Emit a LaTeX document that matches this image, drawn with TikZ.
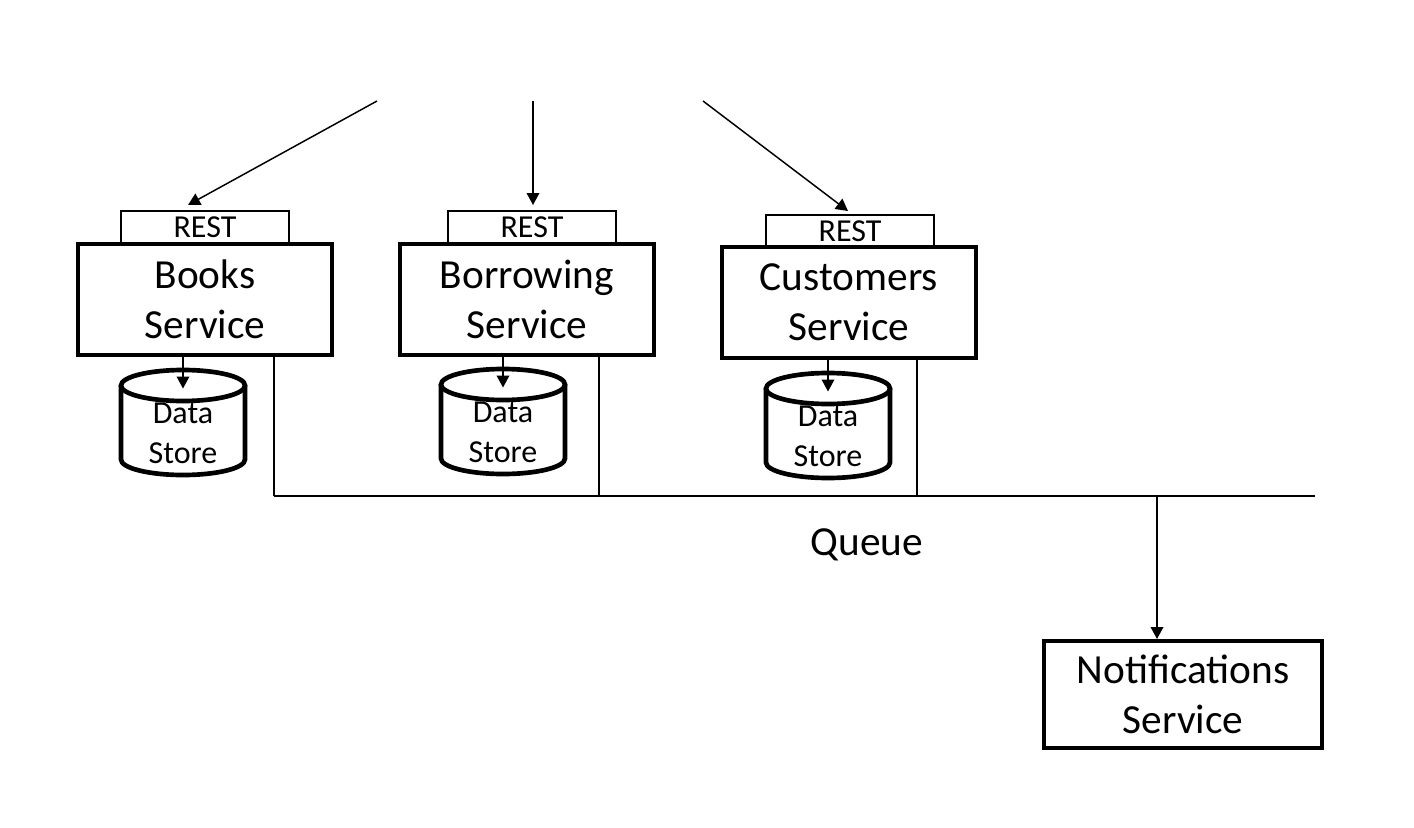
\documentclass[tikz,border=0pt]{standalone}
\usepackage{fontspec}
\setmainfont{Carlito}
\usetikzlibrary{arrows.meta}
\tikzset{
  svc/.style={draw, line width=3pt, minimum width=254*0.75pt, minimum height=111*0.75pt, inner sep=0pt, align=center, font=\fontsize{31}{37.5}\selectfont},
  rest/.style={draw, line width=1.1pt, minimum width=168*0.75pt, minimum height=32*0.75pt, inner sep=0pt, font=\fontsize{24}{28}\selectfont},
  dstext/.style={inner sep=0pt, align=center, font=\fontsize{24}{30}\selectfont},
  conn/.style={line width=1.1pt},
  arr/.style={conn, -{Triangle[length=9pt,width=9.5pt]}},
  cyl/.style={line width=3.5pt},
}
\begin{document}
\begin{tikzpicture}[x=0.75pt,y=-0.75pt]
\fill[white] (0,0) rectangle (1414,828);
\useasboundingbox (0,0) rectangle (1414,828);

% REST tabs
\node[rest] (r1) at (205,227) {REST};
\node[rest] (r2) at (532,227) {REST};
\node[rest] (r3) at (850,231) {REST};
% services
\node[svc, fill=white] (s1) at (205,299.5) {Books\\Service};
\node[svc, fill=white] (s2) at (527,299.5) {Borrowing\\Service};
\node[svc, fill=white] (s3) at (849,302.5) {Customers\\Service};
\node[svc, minimum width=278*0.75pt, minimum height=107*0.75pt] (s4) at (1183,694.5) {Notifications\\Service};

% data stores
\foreach \i/\cx/\cy in {1/183/385.5, 2/503/384.5, 3/828/388.5}{
  \fill[white] (\cx-62,\cy) -- (\cx-62,\cy+74) arc[start angle=180,end angle=0,x radius=62,y radius=15.5] -- (\cx+62,\cy) -- cycle;
  \node[dstext] (d\i) at (\cx,\cy+48) {Data\\Store};
  \draw[cyl, fill=white] (\cx,\cy) ellipse[x radius=62,y radius=15.5];
  \draw[cyl] (\cx-62,\cy) -- (\cx-62,\cy+74) arc[start angle=180,end angle=0,x radius=62,y radius=15.5] -- (\cx+62,\cy);
  \coordinate (t\i) at (\cx,\cy+3);
}
\draw[arr] (s1.south -| t1) -- (t1);
\draw[arr] (s2.south -| t2) -- (t2);
\draw[arr] (s3.south -| t3) -- (t3);

% queue
\coordinate (qL) at (274,496);
\coordinate (qR) at (1315,496);
\coordinate (q1) at (274,496);
\coordinate (q2) at (599,496);
\coordinate (q3) at (917,496);
\coordinate (q4) at (1157,496);
\draw[conn] (qL) -- (qR);
\draw[conn] (s1.south -| q1) -- (q1);
\draw[conn] (s2.south -| q2) -- (q2);
\draw[conn] (s3.south -| q3) -- (q3);
\draw[arr] (q4) -- (q4 |- s4.north);
\node[font=\fontsize{31}{37.5}\selectfont, inner sep=0pt] (ql) at (867,545) {Queue};

% incoming requests
\coordinate (a1) at (377,101);
\coordinate (a2) at (533,101);
\coordinate (a3) at (703,101);
\coordinate (e1) at (188,205);
\coordinate (e2) at (533,205);
\coordinate (e3) at (848,211);
\draw[arr] (a1) -- (e1);
\draw[arr] (a2) -- (e2);
\draw[arr] (a3) -- (e3);
\end{tikzpicture}
\end{document}
